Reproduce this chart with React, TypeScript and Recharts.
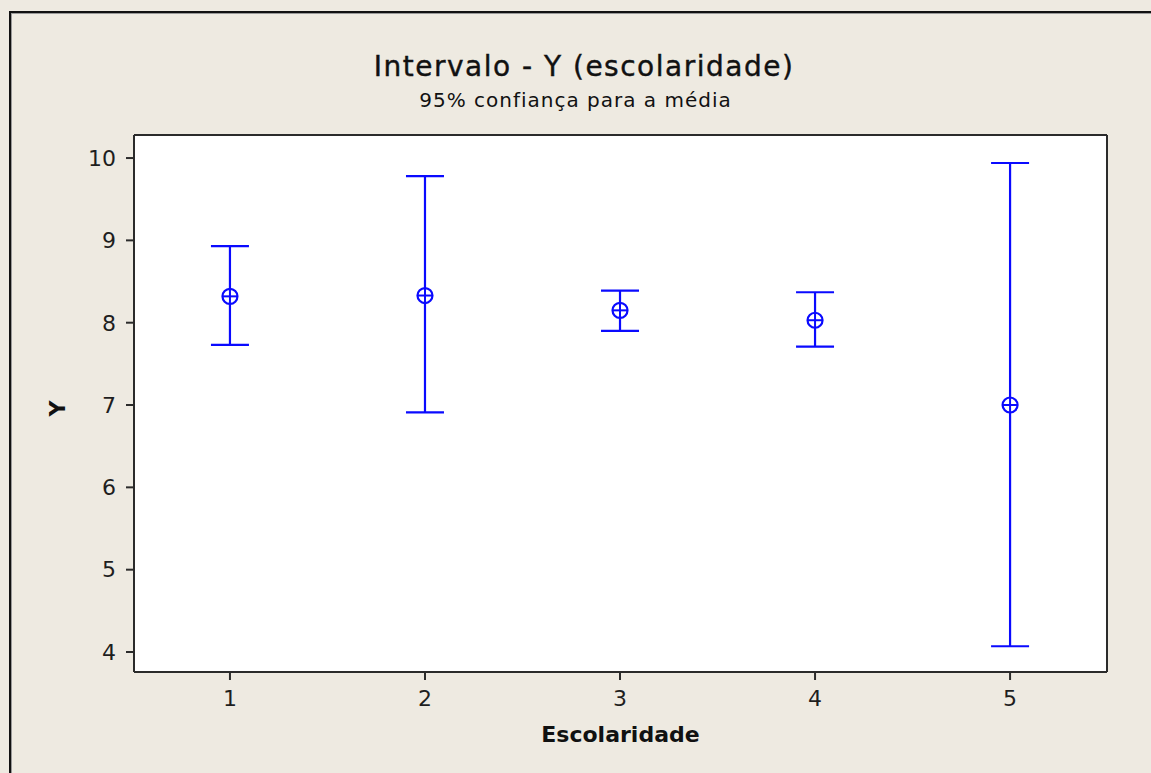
import {
  ComposedChart,
  Scatter,
  ErrorBar,
  XAxis,
  YAxis,
  CartesianGrid,
  ReferenceLine,
} from 'recharts';

const categories = [1, 2, 3, 4, 5];
const means = [8.32, 8.33, 8.15, 8.03, 7.0];
const lower = [7.73, 6.91, 7.9, 7.71, 4.07];
const upper = [8.93, 9.78, 8.39, 8.37, 9.94];

const xTicks = [1, 2, 3, 4, 5];
const yTicks = [4, 5, 6, 7, 8, 9, 10];

const X_DOMAIN: [number, number] = [0.508, 5.497];
const Y_DOMAIN: [number, number] = [3.757, 10.28];

const data = categories.map((c, i) => ({
  x: c,
  y: means[i],
  err: [means[i] - lower[i], upper[i] - means[i]],
}));

const BLUE = '#0a0aff';
const AXIS = '#2b2b2b';
const FONT = '"DejaVu Sans", Verdana, sans-serif';

function MeanMarker(props: any) {
  const { cx, cy } = props;
  if (cx == null || cy == null) return null;
  return (
    <g>
      <circle cx={cx} cy={cy} r={7.5} fill="#fff" stroke={BLUE} strokeWidth={2.2} />
      <line x1={cx - 7.5} y1={cy} x2={cx + 7.5} y2={cy} stroke={BLUE} strokeWidth={2} />
      <line x1={cx} y1={cy - 7.5} x2={cx} y2={cy + 7.5} stroke={BLUE} strokeWidth={2} />
    </g>
  );
}

function YLabel(props: any) {
  const vb = props.viewBox || {};
  const cy = (vb.y ?? 135) + (vb.height ?? 537) / 2 + 5;
  return (
    <text
      x={57}
      y={cy}
      transform={`rotate(-90 57 ${cy})`}
      textAnchor="middle"
      dominantBaseline="central"
      fontFamily={FONT}
      fontWeight="bold"
      fontSize={22}
      fill="#111"
    >
      Y
    </text>
  );
}

export default function App() {
  const tickStyle = { fill: '#1e1e1e', fontSize: 22, fontFamily: FONT };
  return (
    <div
      style={{
        position: 'absolute',
        left: 0,
        top: 0,
        width: 1151,
        height: 773,
        background: '#eeeae1',
        overflow: 'hidden',
      }}
    >
      <div
        style={{
          position: 'absolute',
          left: 9,
          top: 11,
          width: 1200,
          height: 800,
          borderLeft: '2px solid #111',
          borderTop: '2px solid #111',
          boxShadow: 'inset 1px 1px 0 #999',
        }}
      />
      <div
        style={{
          position: 'absolute',
          left: 0,
          top: 53,
          width: 1168,
          textAlign: 'center',
          fontFamily: FONT,
          fontSize: 28,
          lineHeight: '28px',
          letterSpacing: 1.5,
          color: '#111',
          WebkitTextStroke: '0.4px #111',
        }}
      >
        Intervalo - Y (escolaridade)
      </div>
      <div
        style={{
          position: 'absolute',
          left: 0,
          top: 90,
          width: 1151,
          textAlign: 'center',
          fontFamily: FONT,
          fontSize: 20,
          lineHeight: '20px',
          letterSpacing: 1,
          color: '#111',
        }}
      >
        95% confiança para a média
      </div>
      <div style={{ position: 'absolute', left: 0, top: 0 }}>
        <ComposedChart
          width={1151}
          height={773}
          data={data}
          margin={{ top: 135, right: 44, bottom: 31, left: 0 }}
        >
          <CartesianGrid fill="#ffffff" horizontal={false} vertical={false} />
          <XAxis
            dataKey="x"
            type="number"
            domain={X_DOMAIN}
            allowDataOverflow
            ticks={xTicks}
            height={70}
            tick={tickStyle}
            tickSize={8}
            tickMargin={10}
            axisLine={{ stroke: AXIS, strokeWidth: 2 }}
            tickLine={{ stroke: AXIS, strokeWidth: 2 }}
            label={{
              value: 'Escolaridade',
              position: 'insideBottom',
              offset: 0,
              fill: '#111',
              fontSize: 22,
              fontWeight: 'bold',
              fontFamily: FONT,
            }}
          />
          <YAxis
            dataKey="y"
            type="number"
            domain={Y_DOMAIN}
            allowDataOverflow
            ticks={yTicks}
            width={134}
            tick={tickStyle}
            tickSize={8}
            tickMargin={10}
            axisLine={{ stroke: AXIS, strokeWidth: 2 }}
            tickLine={{ stroke: AXIS, strokeWidth: 2 }}
            label={<YLabel />}
          />
          <ReferenceLine y={Y_DOMAIN[1]} stroke={AXIS} strokeWidth={2} />
          <ReferenceLine x={X_DOMAIN[1]} stroke={AXIS} strokeWidth={2} />
          <Scatter dataKey="y" shape={<MeanMarker />} isAnimationActive={false}>
            <ErrorBar
              dataKey="err"
              direction="y"
              width={19}
              stroke={BLUE}
              strokeWidth={2.2}
              isAnimationActive={false}
            />
          </Scatter>
        </ComposedChart>
      </div>
    </div>
  );
}
